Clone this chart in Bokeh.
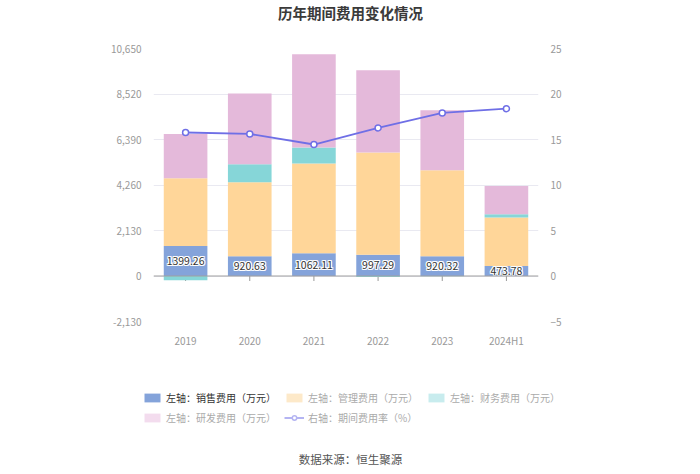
import numpy as np
from bokeh.plotting import figure
from bokeh.layouts import column
from bokeh.models import (Range1d, LinearAxis, FixedTicker, NumeralTickFormatter, Span,
                          Label, Legend, LegendItem, ColumnDataSource)
from bokeh.core.properties import value
from bokeh.embed import file_html
from bokeh.resources import INLINE

# ---- data ----
categories = ["2019", "2020", "2021", "2022", "2023", "2024H1"]
sales = [1399.26, 920.63, 1062.11, 997.29, 920.32, 473.78]      # 销售费用
admin = [3177, 3467, 4202, 4782, 4030, 2260]                     # 管理费用
finance = [-200, 843, 749, -50, -15, 156]                        # 财务费用
rnd = [2074, 3311, 4370, 3855, 2806, 1325]                       # 研发费用
rate = [15.77, 15.61, 14.45, 16.27, 17.92, 18.39]                # 期间费用率 %
left_ticks = [-2130, 0, 2130, 4260, 6390, 8520, 10650]
right_ticks = [-5, 0, 5, 10, 15, 20, 25]

FONT = "Noto Sans CJK SC"
C_SALES, C_ADMIN, C_FIN, C_RND, C_LINE = "#84a3da", "#ffd699", "#86d6d8", "#e4b9da", "#6f6fe6"
F_ADMIN, F_FIN, F_RND, F_LINE = "#fde9c9", "#c8ecee", "#f3dcee", "#b4b4f2"

s = np.array(sales); a = np.array(admin); f = np.array(finance); r = np.array(rnd)
fpos = np.clip(f, 0, None); fneg = np.clip(f, None, 0)
src = ColumnDataSource(dict(
    x=categories,
    s0=np.zeros(len(s)), s1=s,
    a0=s, a1=s + a,
    f0=s + a, f1=s + a + fpos,
    n0=np.zeros(len(s)), n1=fneg,
    r0=s + a + fpos, r1=s + a + fpos + r,
    ly=s / 2, lt=[f"{v:.2f}" for v in sales],
    zero=np.zeros(len(s)), rate=rate,
))


def blank(h):
    q = figure(width=700, height=h, x_range=Range1d(0, 700), y_range=Range1d(0, h),
               x_axis_type=None, y_axis_type=None, output_backend="svg", toolbar_location=None,
               min_border=0, frame_align=False)
    q.outline_line_color = None
    q.xgrid.grid_line_color = None
    q.ygrid.grid_line_color = None
    q.background_fill_color = "white"
    q.border_fill_color = "white"
    return q


# ---- title figure ----
top = blank(40)
top.add_layout(Label(x=350, y=28, x_units="screen", y_units="screen", text="历年期间费用变化情况",
                     text_align="center", text_baseline="middle", text_font=FONT,
                     text_font_size="14.5px", text_font_style="bold", text_color="#3a3a3a"))

# ---- main chart ----
p = figure(width=700, height=311, x_range=categories, y_range=Range1d(left_ticks[0], left_ticks[-1]),
           output_backend="svg", toolbar_location=None, frame_align=False,
           min_border_left=153, min_border_right=162, min_border_top=8, min_border_bottom=30)
p.extra_y_ranges = {"rate": Range1d(right_ticks[0], right_ticks[-1])}
p.outline_line_color = None
p.background_fill_color = "white"
p.border_fill_color = "white"

p.yaxis.ticker = FixedTicker(ticks=left_ticks)
p.yaxis.formatter = NumeralTickFormatter(format="0,0")
for ax in [p.yaxis[0], p.xaxis[0]]:
    ax.axis_line_color = None
    ax.major_tick_line_color = None
    ax.minor_tick_line_color = None
    ax.major_label_text_color = "#999999"
    ax.major_label_text_font = FONT
    ax.major_label_text_font_size = "10px"
p.yaxis.major_label_standoff = 6
p.xaxis.major_label_standoff = 5
ra = LinearAxis(y_range_name="rate", ticker=FixedTicker(ticks=right_ticks),
                axis_line_color=None, major_tick_line_color=None, minor_tick_line_color=None,
                major_label_text_color="#999999", major_label_text_font=FONT,
                major_label_text_font_size="10px", major_label_standoff=6)
p.add_layout(ra, "right")
p.xgrid.grid_line_color = None
p.ygrid.grid_line_color = "#e9e9f1"
p.ygrid.grid_line_width = 1

# small ticks under the zero axis line
p.scatter(x="x", y="zero", source=src, marker="dash", angle=np.pi / 2, size=10,
          line_color="#999999", line_width=1)

W = 0.68
p.vbar(x="x", bottom="s0", top="s1", width=W, source=src, fill_color=C_SALES, line_color=None)
p.vbar(x="x", bottom="a0", top="a1", width=W, source=src, fill_color=C_ADMIN, line_color=None)
p.vbar(x="x", bottom="f0", top="f1", width=W, source=src, fill_color=C_FIN, line_color=None)
p.vbar(x="x", bottom="n0", top="n1", width=W, source=src, fill_color=C_FIN, line_color=None)
p.vbar(x="x", bottom="r0", top="r1", width=W, source=src, fill_color=C_RND, line_color=None)

p.add_layout(Span(location=0, dimension="width", line_color="#a0a0a0", line_width=1.2))

p.line(x="x", y="rate", source=src, y_range_name="rate", line_color=C_LINE, line_width=1.8)
p.scatter(x="x", y="rate", source=src, y_range_name="rate", marker="circle", size=6,
          fill_color="white", line_color=C_LINE, line_width=1.5)

# value labels with white halo
for dx, dy in [(-1, -1), (-1, 0), (-1, 1), (0, -1), (0, 1), (1, -1), (1, 0), (1, 1)]:
    p.text(x="x", y="ly", text="lt", source=src, text_align="center", text_baseline="middle",
           text_font=value(FONT), text_font_size="10.5px", text_color="white",
           x_offset=dx, y_offset=dy)
p.text(x="x", y="ly", text="lt", source=src, text_align="center", text_baseline="middle",
       text_font=value(FONT), text_font_size="10.5px", text_color="#333333")

# ---- legend + source figure ----
bot = blank(123)
d_sales = bot.vbar(x=[np.nan], top=[np.nan], width=1, fill_color=C_SALES, line_color=None)
d_admin = bot.vbar(x=[np.nan], top=[np.nan], width=1, fill_color=F_ADMIN, line_color=None)
d_fin = bot.vbar(x=[np.nan], top=[np.nan], width=1, fill_color=F_FIN, line_color=None)
d_rnd = bot.vbar(x=[np.nan], top=[np.nan], width=1, fill_color=F_RND, line_color=None)
d_line = bot.line(x=[np.nan, np.nan], y=[np.nan, np.nan], line_color=F_LINE, line_width=2)
d_pt = bot.scatter(x=[np.nan], y=[np.nan], marker="circle", size=8, fill_color="white",
                   line_color=F_LINE, line_width=1.5)

legend_specs = [
    ("左轴：销售费用（万元）", [d_sales], 142, 69, "#333333"),
    ("左轴：管理费用（万元）", [d_admin], 284, 69, "#aaaaaa"),
    ("左轴：财务费用（万元）", [d_fin], 426, 69, "#aaaaaa"),
    ("左轴：研发费用（万元）", [d_rnd], 142, 49, "#aaaaaa"),
    ("右轴：期间费用率（%）", [d_line, d_pt], 284, 49, "#aaaaaa"),
]
for label, rends, lx, ly, col in legend_specs:
    lg = Legend(items=[LegendItem(label=label, renderers=rends, index=0)], location=(lx, ly),
                glyph_width=20, glyph_height=11, label_standoff=4, padding=0, margin=0,
                border_line_color=None, background_fill_alpha=0,
                label_text_font=FONT, label_text_font_size="10px", label_text_color=col)
    bot.add_layout(lg, "center")

bot.add_layout(Label(x=350, y=16, x_units="screen", y_units="screen", text="数据来源：恒生聚源",
                     text_align="center", text_baseline="middle", text_font=FONT,
                     text_font_size="11.5px", text_color="#555555"))

layout = column(top, p, bot, spacing=0)
open("out.html", "w").write(file_html(layout, INLINE))
